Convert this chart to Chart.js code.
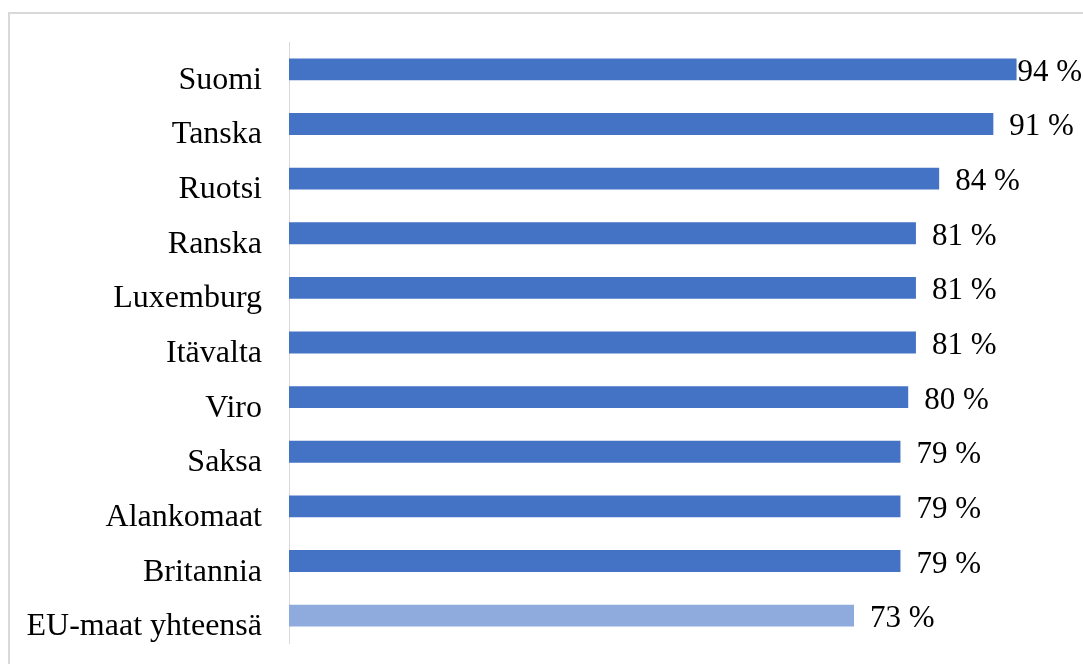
<!DOCTYPE html>
<html lang="fi">
<head>
    <meta charset="UTF-8">
    <title>EU-maat</title>
    <style>
        html, body {
            margin: 0;
            padding: 0;
            background: #ffffff;
        }
        .wrap {
            width: 1083px;
            height: 664px;
        }
    </style>
</head>
<body>
    <div class="wrap">
        <canvas id="chart" width="1083" height="664"></canvas>
    </div>
    <script src="https://cdn.jsdelivr.net/npm/chart.js"></script>
    <script>
        const categories = ['Suomi', 'Tanska', 'Ruotsi', 'Ranska', 'Luxemburg', 'Itävalta', 'Viro', 'Saksa', 'Alankomaat', 'Britannia', 'EU-maat yhteensä'];
        const values = [94, 91, 84, 81, 81, 81, 80, 79, 79, 79, 73];
        const totalCategory = 'EU-maat yhteensä';

        const serif = "'Times New Roman', 'Liberation Serif', serif";

        // light gray frame round the chart, like the original picture
        const framePlugin = {
            id: 'frame',
            beforeDraw(chart) {
                const ctx = chart.ctx;
                ctx.save();
                ctx.strokeStyle = '#d9d9d9';
                ctx.lineWidth = 2;
                ctx.strokeRect(9, 13, chart.width + 20, chart.height + 20);
                ctx.restore();
            }
        };

        // category names sit a bit lower than the bars in the original,
        // so they are drawn here instead of by the axis
        const categoryLabels = {
            id: 'categoryLabels',
            afterDraw(chart) {
                const ctx = chart.ctx;
                const y = chart.scales.y;
                ctx.save();
                ctx.font = '32px ' + serif;
                ctx.fillStyle = '#000000';
                ctx.textAlign = 'right';
                ctx.textBaseline = 'alphabetic';
                categories.forEach((c, i) => {
                    ctx.fillText(c, 262, y.getPixelForTick(i) + 19.5);
                });
                ctx.restore();
            }
        };

        // value labels at the end of each bar, kept inside the canvas
        const valueLabels = {
            id: 'valueLabels',
            afterDatasetsDraw(chart) {
                const ctx = chart.ctx;
                const meta = chart.getDatasetMeta(0);
                ctx.save();
                ctx.font = '31px ' + serif;
                ctx.fillStyle = '#000000';
                ctx.textBaseline = 'alphabetic';
                meta.data.forEach((bar, i) => {
                    const text = values[i] + ' %';
                    const w = ctx.measureText(text).width;
                    let x = bar.x + 16;
                    if (x + w > chart.width - 1) x = chart.width - 1 - w;
                    ctx.fillText(text, x, bar.y + 11.5);
                });
                ctx.restore();
            }
        };

        new Chart(document.getElementById('chart'), {
            type: 'bar',
            data: {
                labels: categories,
                datasets: [{
                    data: values,
                    backgroundColor: categories.map(c => c === totalCategory ? '#8faadc' : '#4472c4'),
                    borderWidth: 0,
                    barPercentage: 0.4,
                    categoryPercentage: 1.0
                }]
            },
            options: {
                indexAxis: 'y',
                responsive: false,
                animation: false,
                layout: {
                    padding: { top: 42, bottom: 21, right: 20, left: 0 }
                },
                scales: {
                    x: {
                        display: false,
                        min: 0,
                        max: 100
                    },
                    y: {
                        afterFit(scale) {
                            scale.width = 289;
                            scale.paddingTop = 0;
                            scale.paddingBottom = 0;
                        },
                        grid: { display: false, drawTicks: false },
                        border: { display: true, color: '#d9d9d9', width: 1 },
                        ticks: { display: false }
                    }
                },
                plugins: {
                    legend: { display: false },
                    tooltip: { enabled: false }
                }
            },
            plugins: [framePlugin, categoryLabels, valueLabels]
        });
    </script>
</body>
</html>
